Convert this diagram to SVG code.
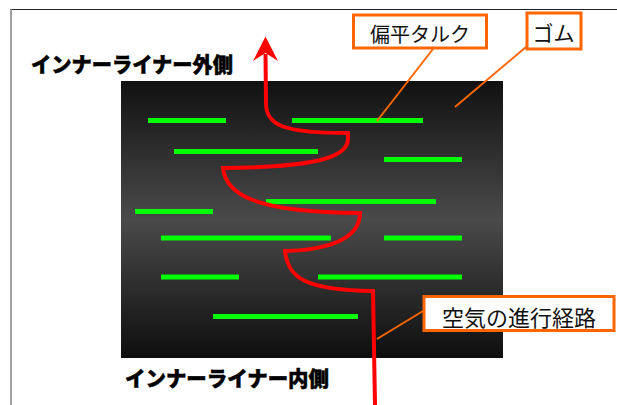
<svg xmlns="http://www.w3.org/2000/svg" width="617" height="405" viewBox="0 0 617 405">
  <defs>
    <linearGradient id="rubberGrad" x1="0" y1="0" x2="0" y2="1">
      <stop offset="0" stop-color="#111111"/>
      <stop offset="0.5" stop-color="#4a4a4a"/>
      <stop offset="1" stop-color="#0e0e0e"/>
    </linearGradient>
  </defs>
  <style>
    .talc { stroke: #00ff00; stroke-width: 5; stroke-linecap: butt; }
    .box { fill: #ffffff; stroke: #ff6600; stroke-width: 3; }
    .leader { stroke: #ff6600; stroke-width: 2; fill: none; }
    .lbl { font-family: "Noto Sans CJK JP", "Noto Sans", sans-serif; fill: #111111; text-anchor: middle; dominant-baseline: central; }
    .side { font-family: "Noto Sans CJK JP", "Noto Sans", sans-serif; font-weight: 900; font-size: 21px; fill: #000000; stroke: #000000; stroke-width: 0.5; dominant-baseline: central; }
    .air { stroke: #ff0000; stroke-width: 4; fill: none; stroke-linejoin: miter; }
  </style>

  <rect x="0" y="0" width="617" height="405" fill="#ffffff"/>

  <g id="frame">
    <line x1="10" y1="9.5" x2="617" y2="9.5" stroke="#222222" stroke-width="1.2"/>
    <line x1="11" y1="9" x2="11" y2="405" stroke="#8a8a8a" stroke-width="1.6"/>
  </g>

  <g id="rubber">
    <rect x="121" y="81" width="382" height="277" fill="url(#rubberGrad)"/>
  </g>

  <g id="talc">
    <line class="talc" x1="148" y1="120.5" x2="226" y2="120.5"/>
    <line class="talc" x1="292" y1="120.5" x2="423" y2="120.5"/>
    <line class="talc" x1="174" y1="151.5" x2="318" y2="151.5"/>
    <line class="talc" x1="384" y1="159.5" x2="462" y2="159.5"/>
    <line class="talc" x1="266" y1="201.5" x2="436" y2="201.5"/>
    <line class="talc" x1="135" y1="211.5" x2="213" y2="211.5"/>
    <line class="talc" x1="161" y1="238" x2="331" y2="238"/>
    <line class="talc" x1="384" y1="238" x2="462" y2="238"/>
    <line class="talc" x1="161" y1="277" x2="239" y2="277"/>
    <line class="talc" x1="318" y1="277" x2="462" y2="277"/>
    <line class="talc" x1="213" y1="316.5" x2="358" y2="316.5"/>
  </g>

  <g id="air-path">
    <path class="air" d="M 265.5 54 L 266 103 C 266 125, 282 133, 348 133 L 348 139 C 348 160, 305 167, 223 168 C 226 195, 255 212, 360 213 C 360 238, 330 250, 285 251 C 288 278, 305 290, 373 291 L 375 405"/>
    <polygon points="265.5,36.5 278,61 265.5,53 253,61" fill="#ff0000"/>
  </g>

  <g id="side-labels">
    <text class="side" x="31" y="62.5" textLength="202" lengthAdjust="spacingAndGlyphs">インナーライナー外側</text>
    <text class="side" x="125" y="377" textLength="204" lengthAdjust="spacingAndGlyphs">インナーライナー内側</text>
  </g>

  <g id="connectors">
    <line class="leader" x1="433" y1="49" x2="377" y2="121"/>
    <line class="leader" x1="526" y1="47" x2="455" y2="107"/>
    <line class="leader" x1="423" y1="311" x2="377" y2="339"/>
  </g>

  <g id="label-talc">
    <rect class="box" x="353.5" y="15" width="133" height="33"/>
    <text class="lbl" x="420" y="33.5" font-size="20">偏平タルク</text>
  </g>

  <g id="label-rubber">
    <rect class="box" x="527" y="13" width="54" height="36"/>
    <text class="lbl" x="553.5" y="31.5" font-size="21">ゴム</text>
  </g>

  <g id="label-air">
    <rect class="box" x="424" y="296.5" width="190" height="34"/>
    <text class="lbl" x="519" y="315.5" font-size="22">空気の進行経路</text>
  </g>
</svg>
